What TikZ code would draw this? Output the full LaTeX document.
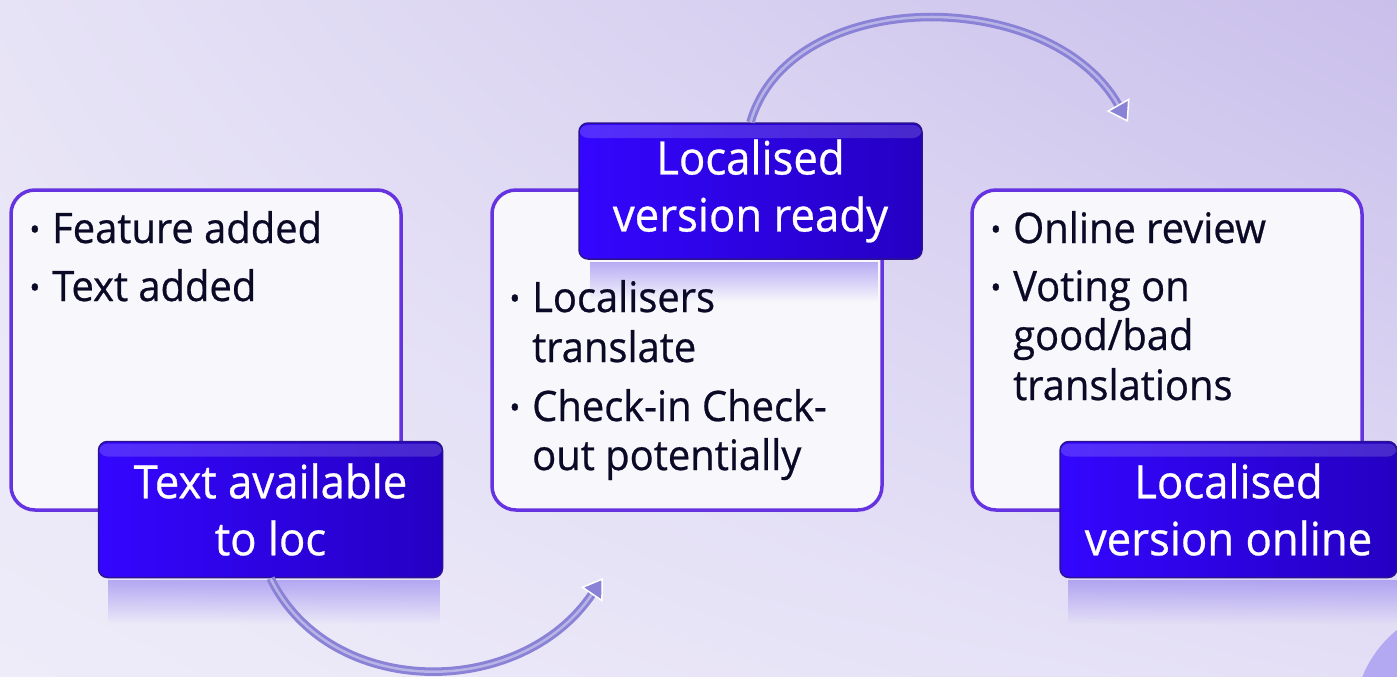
\documentclass[tikz,border=0pt]{standalone}
\usepackage{fontspec}
\setmainfont{Open Sans}[FakeStretch=0.95, FakeBold=0.6]
\usetikzlibrary{arrows.meta,fadings,shadings}
\definecolor{bgUL}{HTML}{E7E3F6}
\definecolor{bgUR}{HTML}{C9BFEB}
\definecolor{bgLL}{HTML}{EEECF9}
\definecolor{bgLR}{HTML}{E4DFF6}
\definecolor{boxedge}{HTML}{6534E0}
\definecolor{boxfill}{HTML}{F8F8FC}
\definecolor{darkL}{HTML}{3406FF}
\definecolor{darkR}{HTML}{2500C2}
\definecolor{darkedge}{HTML}{2A1290}
\definecolor{txt}{HTML}{0B0A26}
\definecolor{arrowc}{HTML}{8A82D6}
\definecolor{reflc}{HTML}{9C8CF0}
\definecolor{blob}{HTML}{B3A9F3}
\tikzfading[name=fadedown, top color=transparent!30, bottom color=transparent!100]
\newcommand\mybul{\llap{\raisebox{3pt}{\fontsize{30}{30}\selectfont\textbullet}\hspace{12pt}}}
\begin{document}
\begin{tikzpicture}[x=1pt,y=-1pt,
  whitebox/.style={draw=boxedge, line width=3.5pt, fill=boxfill, rounded corners=24pt, inner sep=0pt},
  darkbox/.style={draw=darkedge, line width=1.5pt, left color=darkL, right color=darkR,
    rounded corners=9pt, inner sep=0pt, text=white, align=center,
    font=\fontsize{46}{57}\selectfont,
    path picture={\fill[white,opacity=0.16] ([yshift=-2pt]path picture bounding box.north west) rectangle ([yshift=-15pt]path picture bounding box.north east);}},
  item/.style={anchor=base west, inner sep=0pt, text=txt, font=\fontsize{42}{50}\selectfont},
  flow/.style={line width=8.5pt, draw=arrowc, -{Triangle[length=20pt,width=26pt,line width=1.5pt,color=white,fill=arrowc]}},
  flowhl/.style={line width=2.5pt, draw=white, opacity=0.4, shorten >=20pt},
]
\useasboundingbox (0,0) rectangle (1397,677);
\clip (0,0) rectangle (1397,677);
\shade[upper left=bgUL, upper right=bgUR, lower left=bgLL, lower right=bgLR] (0,0) rectangle (1397,677);
\fill[blob] (1470,720) circle (116);
% reflections
\fill[reflc, path fading=fadedown] (108,580) rectangle (440,624);
\fill[reflc, path fading=fadedown] (1068,580) rectangle (1397,624);
% white boxes
\node[whitebox, minimum width=390pt, minimum height=320pt] (w1) at (206,350) {};
\node[whitebox, minimum width=390pt, minimum height=320pt] (w2) at (687,350) {};
\node[whitebox, minimum width=390pt, minimum height=320pt] (w3) at (1167,350) {};
\fill[reflc, path fading=fadedown] (590,262) rectangle (878,302);
% dark boxes
\node[darkbox, minimum width=344pt, minimum height=136pt] (d1) at (270.5,509.5) {Text available\\to loc};
\node[darkbox, minimum width=343pt, minimum height=136pt] (d2) at (750.5,191) {Localised\\version ready};
\node[darkbox, minimum width=337pt, minimum height=136pt] (d3) at (1228.5,509.5) {Localised\\version online};
% list texts
\node[item] (t1a) at (52,243) {\mybul Feature added};
\node[item] (t1b) at (52,301) {\mybul Text added};
\node[item] (t2a) at (532,312) {\mybul Localisers};
\node[item] (t2b) at (532,362) {translate};
\node[item] (t2c) at (532,421) {\mybul Check-in Check-};
\node[item] (t2d) at (532,470) {out potentially};
\node[item] (t3a) at (1013,243) {\mybul Online review};
\node[item] (t3b) at (1013,301) {\mybul Voting on};
\node[item] (t3c) at (1013,350) {good/bad};
\node[item] (t3d) at (1013,400) {translations};
% arrows
\coordinate (e1) at (603,578);
\coordinate (e2) at (1128,122);
\draw[flow] (d1.south) .. controls (330,700) and (520,700) .. (e1);
\draw[flowhl] (d1.south) .. controls (330,700) and (520,700) .. (e1);
\draw[flow] (d2.north) .. controls (790,-15) and (1050,-15) .. (e2);
\draw[flowhl] (d2.north) .. controls (790,-15) and (1050,-15) .. (e2);
\end{tikzpicture}
\end{document}
